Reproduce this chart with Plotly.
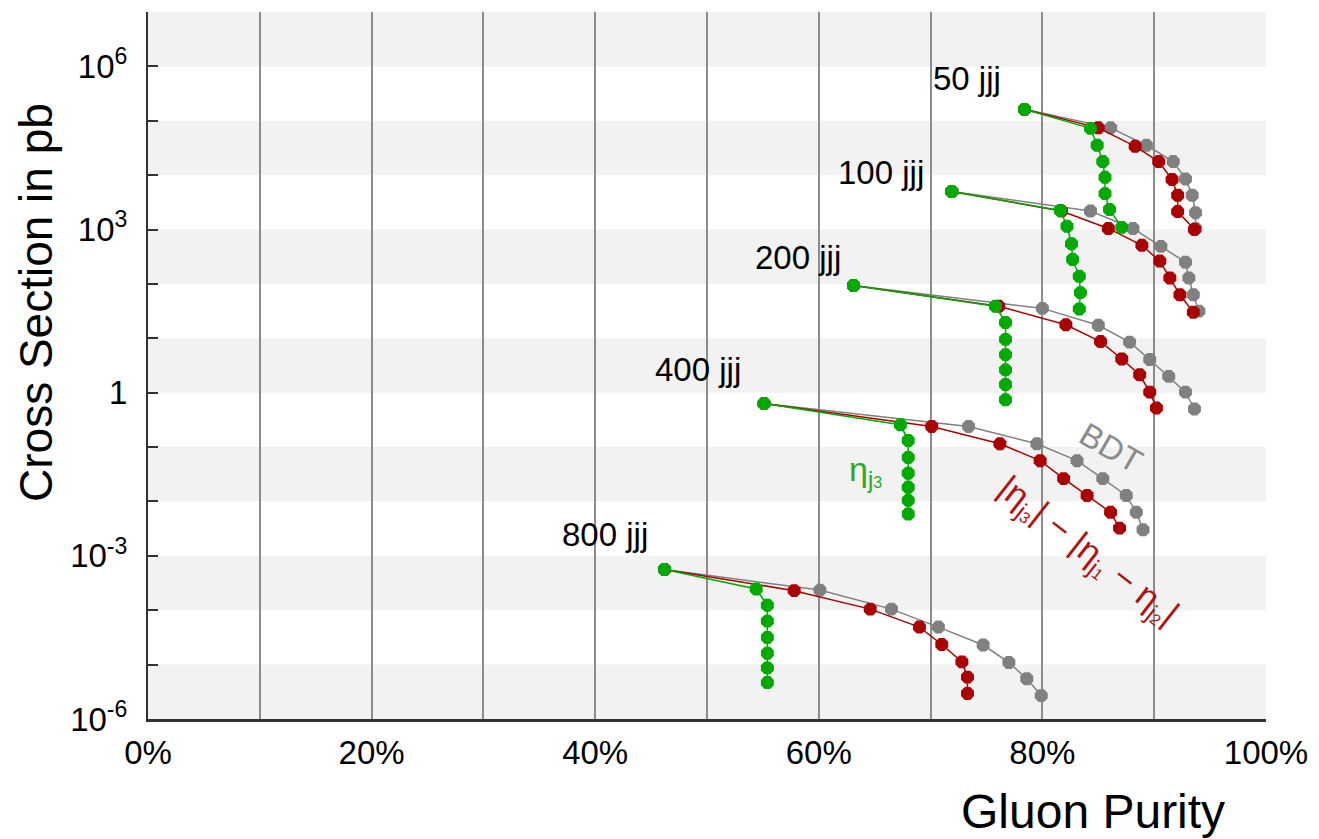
import numpy as np
import plotly.graph_objects as go

# ---------------- data (x = gluon purity in %, y = log10 of cross section in pb) -------------
groups = ["50 jjj", "100 jjj", "200 jjj", "400 jjj", "800 jjj"]

# shared starting point (no cut) of each group
start_x = [78.4, 71.9, 63.1, 55.1, 46.2]
start_logy = [5.21, 3.70, 1.97, -0.20, -3.25]

# eta_j3 cut (green)
eta_x = [
    [84.3, 84.9, 85.4, 85.6, 85.6, 86.0, 87.1],
    [81.6, 82.2, 82.6, 82.7, 83.3, 83.4, 83.3],
    [75.8, 76.7, 76.7, 76.7, 76.7, 76.7, 76.7],
    [67.3, 68.0, 68.0, 68.0, 68.0, 68.0, 68.0],
    [54.4, 55.4, 55.4, 55.4, 55.4, 55.4, 55.4],
]
eta_logy = [
    [4.86, 4.55, 4.25, 3.96, 3.66, 3.37, 3.04],
    [3.35, 3.06, 2.74, 2.45, 2.14, 1.84, 1.54],
    [1.59, 1.29, 0.98, 0.70, 0.42, 0.15, -0.13],
    [-0.59, -0.88, -1.19, -1.48, -1.74, -1.98, -2.23],
    [-3.61, -3.91, -4.20, -4.50, -4.79, -5.06, -5.33],
]

# |eta_j3| - |eta_j1 - eta_j2| cut (red)
rap_x = [
    [85.0, 88.3, 90.4, 91.6, 92.1, 92.1, 93.6],
    [81.7, 85.9, 88.9, 90.5, 91.4, 92.3, 93.5],
    [76.1, 82.1, 85.2, 87.1, 88.7, 89.6, 90.2],
    [70.1, 76.2, 79.8, 81.9, 84.0, 86.1, 86.9],
    [57.8, 64.6, 69.0, 71.0, 72.8, 73.3, 73.3],
]
rap_logy = [
    [4.87, 4.53, 4.25, 3.92, 3.63, 3.33, 3.00],
    [3.34, 3.02, 2.71, 2.42, 2.11, 1.80, 1.48],
    [1.59, 1.25, 0.94, 0.62, 0.33, 0.01, -0.28],
    [-0.62, -0.94, -1.25, -1.58, -1.89, -2.20, -2.49],
    [-3.64, -3.98, -4.31, -4.63, -4.95, -5.23, -5.53],
]

# BDT cut (grey)
bdt_x = [
    [86.1, 89.3, 91.7, 92.8, 93.4, 93.7, 93.7],
    [84.3, 88.1, 90.6, 92.8, 93.1, 93.5, 94.0],
    [80.0, 85.0, 87.8, 89.6, 91.3, 92.8, 93.6],
    [73.4, 79.5, 83.1, 85.4, 87.5, 88.4, 89.0],
    [60.1, 66.5, 70.7, 74.7, 77.0, 78.6, 79.9],
]
bdt_logy = [
    [4.87, 4.55, 4.25, 3.93, 3.63, 3.31, 3.02],
    [3.34, 3.02, 2.69, 2.40, 2.11, 1.80, 1.50],
    [1.55, 1.24, 0.93, 0.61, 0.30, 0.01, -0.30],
    [-0.62, -0.94, -1.25, -1.58, -1.89, -2.20, -2.52],
    [-3.63, -3.98, -4.31, -4.64, -4.96, -5.26, -5.57],
]

# group label positions (x in %, y as log10)
label_x = [73.3, 65.6, 58.1, 49.2, 40.9]
label_logy = [5.78, 4.05, 2.49, 0.42, -2.61]

x_tickvals = [0, 10, 20, 30, 40, 50, 60, 70, 80, 90, 100]
x_ticktext = ["0%", "", "20%", "", "40%", "", "60%", "", "80%", "", "100%"]
y_decades = list(range(-6, 7))
y_labels = {6: "10<sup>6</sup>", 3: "10<sup>3</sup>", 0: "1", -3: "10<sup>-3</sup>", -6: "10<sup>-6</sup>"}
shaded_decades = [6, 4, 2, 0, -2, -4, -6]

GREEN = "rgb(0,170,0)"
RED = "rgb(170,0,0)"
GREY = "rgb(128,128,128)"
FONT = "Liberation Sans, Arial, sans-serif"

fig = go.Figure()


def add_series(xs, ly, color):
    fig.add_trace(go.Scatter(
        x=xs, y=np.power(10.0, ly), mode="lines+markers",
        line=dict(color=color, width=1.5),
        marker=dict(color=color, size=14, symbol="octagon", line=dict(width=0)),
        showlegend=False, hoverinfo="skip"))


for i in range(len(groups)):
    add_series([start_x[i]] + bdt_x[i], [start_logy[i]] + bdt_logy[i], GREY)
for i in range(len(groups)):
    add_series([start_x[i]] + rap_x[i], [start_logy[i]] + rap_logy[i], RED)
for i in range(len(groups)):
    add_series([start_x[i]] + eta_x[i], [start_logy[i]] + eta_logy[i], GREEN)

shapes = []
for d in shaded_decades:
    shapes.append(dict(type="rect", xref="paper", x0=0, x1=1, yref="y",
                       y0=10.0 ** d, y1=10.0 ** (d + 1),
                       fillcolor="#f2f2f2", line=dict(width=0), layer="below"))

sub3 = "<span style='font-size:16px'>3</span>"
sub1 = "<span style='font-size:16px'>1</span>"
sub2 = "<span style='font-size:16px'>2</span>"

annotations = []
for i, g in enumerate(groups):
    annotations.append(dict(x=label_x[i], y=label_logy[i], xref="x", yref="y", text=g,
                            xanchor="center", yanchor="middle",
                            showarrow=False, font=dict(size=33, color="black", family=FONT)))
annotations += [
    dict(x=64.2, y=-1.45, xref="x", yref="y", text="η<sub>j" + sub3 + "</sub>", showarrow=False,
         xanchor="center", yanchor="middle",
         font=dict(size=34, color="rgb(40,170,40)", family=FONT)),
    dict(x=86.1, y=-1.01, xref="x", yref="y", text="BDT", showarrow=False, textangle=30,
         xanchor="center", yanchor="middle",
         font=dict(size=33, color="rgb(140,140,140)", family=FONT)),
    dict(x=84.1, y=-2.92, xref="x", yref="y",
         text="|η<sub>j" + sub3 + "</sub>| − |η<sub>j" + sub1 + "</sub> − η<sub>j" + sub2 + "</sub>|",
         showarrow=False, textangle=38,
         xanchor="center", yanchor="middle",
         font=dict(size=35, color="rgb(175,20,20)", family=FONT)),
    dict(x=-0.1002, y=0.5898, xref="paper", yref="paper", text="Cross Section in pb",
         xanchor="center", yanchor="middle",
         textangle=-90, showarrow=False, font=dict(size=46, color="black", family=FONT)),
    dict(x=0.8457, y=-0.131, xref="paper", yref="paper", text="Gluon Purity",
         xanchor="center", yanchor="middle",
         showarrow=False, font=dict(size=48, color="black", family=FONT)),
]

fig.update_layout(
    width=1319, height=839,
    margin=dict(l=148, r=53, t=12, b=120),
    paper_bgcolor="white", plot_bgcolor="white",
    shapes=shapes, annotations=annotations, showlegend=False,
    font=dict(family=FONT, color="black"),
)
fig.update_xaxes(
    range=[0, 100], tickvals=x_tickvals, ticktext=x_ticktext,
    showgrid=True, gridcolor="rgb(140,140,140)", gridwidth=1.5,
    showline=True, linecolor="rgb(50,50,50)", linewidth=2.5,
    ticks="", tickfont=dict(size=33, family=FONT, color="black"),
    ticklabelstandoff=3, zeroline=False, fixedrange=True,
)
fig.update_yaxes(
    type="log", range=[-6, 7],
    tickvals=[10.0 ** d for d in y_decades],
    ticktext=[y_labels.get(d, "") for d in y_decades],
    showgrid=False, showline=True, linecolor="rgb(50,50,50)", linewidth=2,
    ticks="inside", ticklen=10, tickwidth=1.5, tickcolor="rgb(50,50,50)",
    tickfont=dict(size=33, family=FONT, color="black"),
    ticklabelstandoff=12, zeroline=False, fixedrange=True,
)

fig.write_html("out.html")
